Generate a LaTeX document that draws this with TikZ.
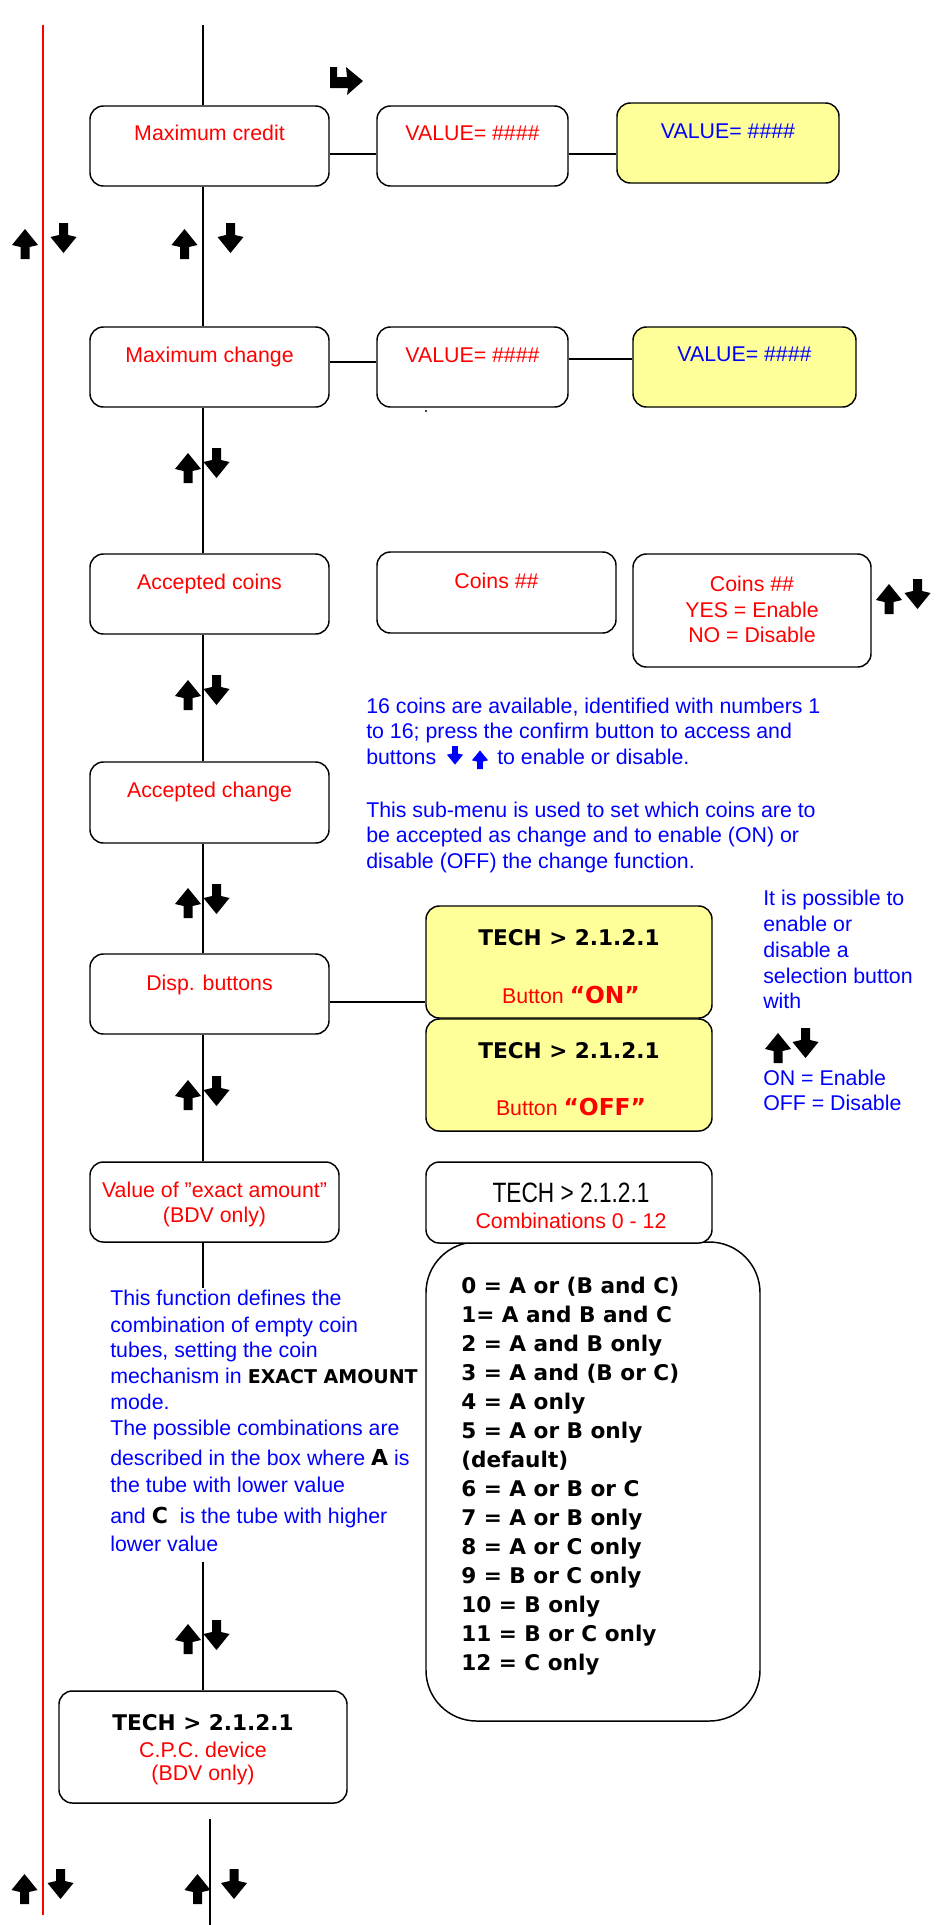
\documentclass[tikz,border=0pt]{standalone}
\usepackage{fontspec}
\setmainfont{Liberation Sans}
\newfontfamily\heavyfont{DejaVu Sans}
\newfontfamily\narrowfont{Liberation Sans}[FakeStretch=0.81]
\usetikzlibrary{fit}

\definecolor{tred}{RGB}{255,0,0}
\definecolor{tblue}{RGB}{0,0,255}
\definecolor{pale}{RGB}{255,255,153}

% bold heavy face at a given size
\newcommand{\hv}[1]{\heavyfont\bfseries\fontsize{#1}{19pt}\selectfont}

\tikzset{
  box/.style={draw, line width=1.1pt, rounded corners=10pt, inner sep=0pt, fill=white},
  ybox/.style={box, fill=pale},
  link/.style={line width=1.5pt},
  spine/.style={line width=0.8pt},
  txt/.style={inner sep=0pt, font=\fontsize{16pt}{19pt}\selectfont},
  ctr/.style={txt, anchor=base},
  lft/.style={txt, anchor=base west},
  rd/.style={text=tred},
  bl/.style={text=tblue},
  uparr/.pic={\fill[pic actions] (-4.5,0) -- (4.5,0) -- (4.5,-12) -- (13,-14) -- (0,-30) -- (-13,-14) -- (-4.5,-12) -- cycle;},
  dnarr/.pic={\fill[pic actions] (-4.5,0) -- (4.5,0) -- (4.5,12) -- (13,14) -- (0,30) -- (-13,14) -- (-4.5,12) -- cycle;},
}

\begin{document}
\begin{tikzpicture}[x=0.75pt,y=-0.75pt]
\useasboundingbox (0,0) rectangle (945,1925);

% ---- red margin line and main spine ----
\coordinate (rl1) at (43,25);
\coordinate (rl2) at (43,1915);
\draw[tred, line width=1.1pt] (rl1) -- (rl2);
\coordinate (top) at (203,25);

% ---- boxes ----
\node[box,  fit={(90,106) (329,186)}]  (mcred) {};
\node[box,  fit={(377,106) (568,186)}] (v1) {};
\node[ybox, fit={(617,103) (839,183)}] (y1) {};
\node[box,  fit={(90,327) (329,407)}]  (mchg) {};
\node[box,  fit={(377,327) (568,407)}] (v2) {};
\node[ybox, fit={(633,327) (856,407)}] (y2) {};
\node[box,  fit={(90,554) (329,634)}]  (acoin) {};
\node[box,  fit={(377,552) (616,633)}] (coins) {};
\node[box,  fit={(633,554) (871,667)}] (yesno) {};
\node[box,  fit={(90,762) (329,843)}]  (achg) {};
\node[box,  fit={(90,954) (329,1034)}] (disp) {};
\node[ybox, fit={(426,906) (712,1018)}] (on) {};
\node[ybox, fit={(426,1019) (712,1131)}] (off) {};
\node[box,  fit={(90,1162) (339,1242)}] (exact) {};
\node[box, rounded corners=38pt, fit={(426,1242) (760,1721)}] (list) {};
\node[box,  fit={(426,1162) (712,1243)}] (combo) {};
\node[box,  fit={(59,1691) (347,1803)}] (cpc) {};

% ---- spine segments ----
\draw[spine] (top) -- (mcred.north -| top);
\draw[spine] (mcred.south -| top) -- (mchg.north -| top);
\draw[spine] (mchg.south -| top) -- (acoin.north -| top);
\draw[spine] (acoin.south -| top) -- (achg.north -| top);
\draw[spine] (achg.south -| top) -- (disp.north -| top);
\draw[spine] (disp.south -| top) -- (exact.north -| top);
\coordinate (stubA) at (203,1288);
\coordinate (stubB) at (203,1562);
\draw[spine] (exact.south -| top) -- (stubA);
\draw[spine] (stubB) -- (cpc.north -| top);
\coordinate (tailA) at (210,1819);
\coordinate (tailB) at (210,1925);
\draw[spine] (tailA) -- (tailB);

% ---- horizontal links ----
\draw[link] (mcred.east |- 0,154) -- (v1.west |- 0,154);
\draw[link] (v1.east |- 0,154) -- (y1.west |- 0,154);
\draw[link] (mchg.east |- 0,362) -- (v2.west |- 0,362);
\draw[link] (v2.east |- 0,359) -- (y2.west |- 0,359);
\draw[link] (disp.east |- 0,1002) -- (on.west |- 0,1002);
\fill (426,411) circle[radius=0.8pt];

% ---- box labels ----
\node[ctr,rd] (t1) at (209.5,140) {Maximum credit};
\node[ctr,rd] (t2) at (472.5,140) {VALUE= \#\#\#\#};
\node[ctr,bl] (t3) at (728,138) {VALUE= \#\#\#\#};
\node[ctr,rd] (t4) at (209.5,362) {Maximum change};
\node[ctr,rd] (t5) at (472.5,362) {VALUE= \#\#\#\#};
\node[ctr,bl] (t6) at (744.5,361) {VALUE= \#\#\#\#};
\node[ctr,rd] (t7) at (209.5,589) {Accepted coins};
\node[ctr,rd] (t8) at (496.5,588) {Coins \#\#};
\node[ctr,rd] (t9a) at (752,591) {Coins \#\#};
\node[ctr,rd] (t9b) at (752,617) {YES = Enable};
\node[ctr,rd] (t9c) at (752,642) {NO = Disable};
\node[ctr,rd] (t10) at (209.5,797) {Accepted change};
\node[ctr,rd] (t11) at (209.5,990) {Disp. buttons};
\node[ctr] (t12a) at (569,945) {\hv{16.2pt}TECH > 2.1.2.1};
\node[ctr,rd] (t12b) at (571,1003) {Button {\hv{17.5pt}“ON”}};
\node[ctr] (t13a) at (569,1058) {\hv{16.2pt}TECH > 2.1.2.1};
\node[ctr,rd] (t13b) at (571,1115) {Button {\hv{17.5pt}“OFF”}};
\node[ctr,rd] (t14a) at (214.5,1197) {Value of "exact amount"};
\node[ctr,rd] (t14b) at (214.5,1222) {(BDV only)};
\node[ctr] (t15a) at (571,1202) {\narrowfont\fontsize{21pt}{24pt}\selectfont TECH > 2.1.2.1};
\node[ctr,rd] (t15b) at (571,1228) {Combinations 0 - 12};
\node[ctr] (t16a) at (203,1730) {\hv{16.2pt}TECH > 2.1.2.1};
\node[ctr,rd] (t16b) at (203,1757) {C.P.C. device};
\node[ctr,rd] (t16c) at (203,1780) {(BDV only)};

% ---- combination list ----
\foreach \s [count=\i from 0] in {0 = A or (B and C), 1= A and B and C, 2 = A and B only,
  3 = A and (B or C), 4 = A only, 5 = A or B only, (default), 6 = A or B or C,
  7 = A or B only, 8 = A or C only, 9 = B or C only, 10 = B only, 11 = B or C only, 12 = C only}
  \node[lft] (c\i) at (461,1293+29*\i) {\hv{16.2pt}\s};

% ---- coin notes ----
\node[lft,bl] (p1) at (366,713) {16 coins are available, identified with numbers 1};
\node[lft,bl] (p2) at (366,738) {to 16; press the confirm button to access and};
\node[lft,bl] (p3) at (366,764) {buttons};
\node[lft,bl] (p4) at (497,764) {to enable or disable.};
\pic[tblue, scale=0.62] at (455,746) {dnarr};
\pic[tblue, scale=0.62] at (480,769) {uparr};
\node[lft,bl] (p5) at (366,817) {This sub-menu is used to set which coins are to};
\node[lft,bl] (p6) at (366,842) {be accepted as change and to enable (ON) or};
\node[lft,bl] (p7) at (366,868) {disable (OFF) the change function.};

% ---- button notes ----
\node[lft,bl] (q1) at (763,905) {It is possible to};
\node[lft,bl] (q2) at (763,931) {enable or};
\node[lft,bl] (q3) at (763,957) {disable a};
\node[lft,bl] (q4) at (763,983) {selection button};
\node[lft,bl] (q5) at (763,1008) {with};
\node[lft,bl] (q6) at (763,1085) {ON = Enable};
\node[lft,bl] (q7) at (763,1110) {OFF = Disable};

% ---- exact amount notes ----
\node[lft,bl] (r1) at (110,1305) {This function defines the};
\node[lft,bl] (r2) at (110,1332) {combination of empty coin};
\node[lft,bl] (r3) at (110,1357) {tubes, setting the coin};
\node[lft,bl] (r4) at (110,1383) {mechanism in {\color{black}\hv{14.25pt}EXACT AMOUNT}};
\node[lft,bl] (r5) at (110,1409) {mode.};
\node[lft,bl] (r6) at (110,1435) {The possible combinations are};
\node[lft,bl] (r7) at (110,1465) {described in the box where {\color{black}\hv{16.5pt}A} is};
\node[lft,bl] (r8) at (110,1492) {the tube with lower value};
\node[lft,bl] (r9) at (110,1523) {and {\color{black}\hv{16.5pt}C}\ \ is the tube with higher};
\node[lft,bl] (r10) at (110,1551) {lower value};

% ---- navigation arrows ----
\pic at (25,259) {uparr};     \pic at (63.5,223) {dnarr};
\pic at (184.5,259) {uparr};  \pic at (230.5,223) {dnarr};
\pic at (188,483) {uparr};    \pic at (216.5,448) {dnarr};
\pic at (188,710) {uparr};    \pic at (216.5,675) {dnarr};
\pic at (889,614) {uparr};    \pic at (917.5,579) {dnarr};
\pic at (188,918) {uparr};    \pic at (216.5,884) {dnarr};
\pic at (188,1110) {uparr};   \pic at (216.5,1076) {dnarr};
\pic at (778,1063) {uparr};   \pic at (805.5,1028) {dnarr};
\pic at (188,1654) {uparr};   \pic at (216.5,1620) {dnarr};
\pic at (24.5,1904) {uparr};  \pic at (60.5,1869) {dnarr};
\pic at (197.5,1904) {uparr}; \pic at (234,1869) {dnarr};

% ---- enter (bent) arrow ----
\fill (330,67) -- (337,67) -- (337,77) -- (347,77) -- (346,67) -- (363,81)
  -- (347,95) -- (348,88) -- (330,88) -- cycle;
\end{tikzpicture}
\end{document}
